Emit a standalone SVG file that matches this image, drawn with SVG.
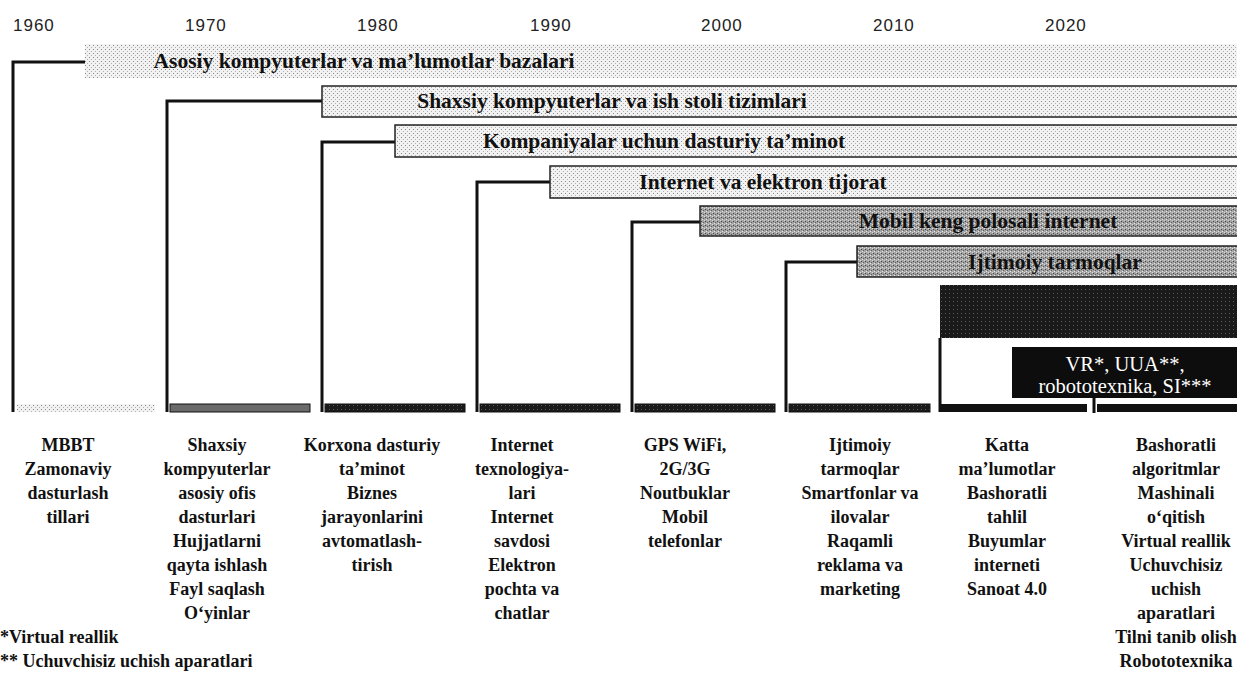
<svg xmlns="http://www.w3.org/2000/svg" width="1237" height="681" viewBox="0 0 1237 681">
<defs>
<pattern id="pLight" width="4" height="4" patternUnits="userSpaceOnUse">
<rect width="4" height="4" fill="#f2f2f2"/>
<rect x="1" y="1" width="1" height="1" fill="#8a8a8a"/>
<rect x="3" y="3" width="1" height="1" fill="#b0b0b0"/>
</pattern>
<pattern id="pMid" width="4" height="4" patternUnits="userSpaceOnUse">
<rect width="4" height="4" fill="#a3a3a3"/>
<rect x="1" y="1" width="1" height="1" fill="#444"/>
<rect x="3" y="2" width="1" height="1" fill="#606060"/>
<rect x="2" y="3" width="1" height="1" fill="#e8e8e8"/>
<rect x="0" y="0" width="1" height="1" fill="#dcdcdc"/>
</pattern>
<pattern id="pDark" width="4" height="4" patternUnits="userSpaceOnUse">
<rect width="4" height="4" fill="#1a1a1a"/>
<rect x="1" y="1" width="1" height="1" fill="#5a5a5a"/>
</pattern>
</defs>
<style>
.yr{font-family:"Liberation Sans",Arial,sans-serif;font-size:17px;fill:#222;letter-spacing:1px}
.bt{font-family:"Liberation Serif","Times New Roman",serif;font-size:21.5px;font-weight:bold;fill:#111;text-anchor:middle}
.lb{font-family:"Liberation Serif","Times New Roman",serif;font-size:18px;font-weight:bold;fill:#111;text-anchor:middle}
.fn{font-family:"Liberation Serif","Times New Roman",serif;font-size:18px;font-weight:bold;fill:#111}
.wt{font-family:"Liberation Serif","Times New Roman",serif;font-size:20.5px;fill:#fff;text-anchor:middle}
.conn{fill:none;stroke:#111;stroke-width:3}
.bar{stroke:#222;stroke-width:1.5}
.strip{stroke:#111;stroke-width:1}
</style>
<g id="years">
<text class="yr" x="13" y="31">1960</text>
<text class="yr" x="185" y="31">1970</text>
<text class="yr" x="357" y="31">1980</text>
<text class="yr" x="530" y="31">1990</text>
<text class="yr" x="701" y="31">2000</text>
<text class="yr" x="873" y="31">2010</text>
<text class="yr" x="1045" y="31">2020</text>
</g>
<g id="connectors">
<polyline class="conn" points="85,62 13,62 13,412"/>
<polyline class="conn" points="322,101 167,101 167,412"/>
<polyline class="conn" points="395,142 322,142 322,412"/>
<polyline class="conn" points="550,182 477,182 477,412"/>
<polyline class="conn" points="700,222 632,222 632,412"/>
<polyline class="conn" points="857,262 786,262 786,412"/>
<line class="conn" x1="940" y1="338" x2="940" y2="412"/>
<line class="conn" x1="1094" y1="398" x2="1094" y2="413"/>
</g>
<g id="bar1">
<rect x="85" y="44" width="1152" height="34" fill="url(#pLight)"/>
<text class="bt" x="364" y="68">Asosiy kompyuterlar va ma’lumotlar bazalari</text>
</g>
<g id="bar2">
<rect class="bar" x="322" y="86" width="920" height="31" fill="url(#pLight)"/>
<text class="bt" x="612" y="108">Shaxsiy kompyuterlar va ish stoli tizimlari</text>
</g>
<g id="bar3">
<rect class="bar" x="395" y="125" width="847" height="32" fill="url(#pLight)"/>
<text class="bt" x="664" y="148">Kompaniyalar uchun dasturiy ta’minot</text>
</g>
<g id="bar4">
<rect class="bar" x="550" y="166" width="692" height="32" fill="url(#pLight)"/>
<text class="bt" x="763" y="189">Internet va elektron tijorat</text>
</g>
<g id="bar5">
<rect class="bar" x="700" y="206" width="542" height="30" fill="url(#pMid)"/>
<text class="bt" x="988" y="228">Mobil keng polosali internet</text>
</g>
<g id="bar6">
<rect class="bar" x="857" y="246" width="385" height="31" fill="url(#pMid)"/>
<text class="bt" x="1055" y="269">Ijtimoiy tarmoqlar</text>
</g>
<g id="bar7">
<rect x="940" y="285" width="297" height="53" fill="url(#pDark)"/>
</g>
<g id="vrbox">
<rect x="1012" y="347" width="225" height="51" fill="#0d0d0d"/>
<text class="wt" x="1125" y="371">VR*, UUA**,</text>
<text class="wt" x="1125" y="393">robototexnika, SI***</text>
</g>
<g id="strips">
<rect x="17" y="404" width="138" height="8" fill="url(#pLight)"/>
<rect class="strip" x="170" y="404" width="140" height="8" fill="#6a6a6a"/>
<rect class="strip" x="325" y="404" width="140" height="8" fill="url(#pDark)"/>
<rect class="strip" x="480" y="404" width="140" height="8" fill="url(#pDark)"/>
<rect class="strip" x="635" y="404" width="140" height="8" fill="url(#pDark)"/>
<rect class="strip" x="789" y="404" width="141" height="8" fill="url(#pDark)"/>
<rect x="940" y="404" width="147" height="8" fill="#111"/>
<rect x="1097" y="404" width="140" height="8" fill="#111"/>
</g>
<g id="col1">
<text class="lb" x="68" y="451">MBBT</text>
<text class="lb" x="68" y="475">Zamonaviy</text>
<text class="lb" x="68" y="499">dasturlash</text>
<text class="lb" x="68" y="523">tillari</text>
</g>
<g id="col2">
<text class="lb" x="217" y="451">Shaxsiy</text>
<text class="lb" x="217" y="475">kompyuterlar</text>
<text class="lb" x="217" y="499">asosiy ofis</text>
<text class="lb" x="217" y="523">dasturlari</text>
<text class="lb" x="217" y="547">Hujjatlarni</text>
<text class="lb" x="217" y="571">qayta ishlash</text>
<text class="lb" x="217" y="595">Fayl saqlash</text>
<text class="lb" x="217" y="619">O‘yinlar</text>
</g>
<g id="col3">
<text class="lb" x="372" y="451">Korxona dasturiy</text>
<text class="lb" x="372" y="475">ta’minot</text>
<text class="lb" x="372" y="499">Biznes</text>
<text class="lb" x="372" y="523">jarayonlarini</text>
<text class="lb" x="372" y="547">avtomatlash-</text>
<text class="lb" x="372" y="571">tirish</text>
</g>
<g id="col4">
<text class="lb" x="522" y="451">Internet</text>
<text class="lb" x="522" y="475">texnologiya-</text>
<text class="lb" x="522" y="499">lari</text>
<text class="lb" x="522" y="523">Internet</text>
<text class="lb" x="522" y="547">savdosi</text>
<text class="lb" x="522" y="571">Elektron</text>
<text class="lb" x="522" y="595">pochta va</text>
<text class="lb" x="522" y="619">chatlar</text>
</g>
<g id="col5">
<text class="lb" x="685" y="451">GPS WiFi,</text>
<text class="lb" x="685" y="475">2G/3G</text>
<text class="lb" x="685" y="499">Noutbuklar</text>
<text class="lb" x="685" y="523">Mobil</text>
<text class="lb" x="685" y="547">telefonlar</text>
</g>
<g id="col6">
<text class="lb" x="860" y="451">Ijtimoiy</text>
<text class="lb" x="860" y="475">tarmoqlar</text>
<text class="lb" x="860" y="499">Smartfonlar va</text>
<text class="lb" x="860" y="523">ilovalar</text>
<text class="lb" x="860" y="547">Raqamli</text>
<text class="lb" x="860" y="571">reklama va</text>
<text class="lb" x="860" y="595">marketing</text>
</g>
<g id="col7">
<text class="lb" x="1007" y="451">Katta</text>
<text class="lb" x="1007" y="475">ma’lumotlar</text>
<text class="lb" x="1007" y="499">Bashoratli</text>
<text class="lb" x="1007" y="523">tahlil</text>
<text class="lb" x="1007" y="547">Buyumlar</text>
<text class="lb" x="1007" y="571">interneti</text>
<text class="lb" x="1007" y="595">Sanoat 4.0</text>
</g>
<g id="col8">
<text class="lb" x="1176" y="451">Bashoratli</text>
<text class="lb" x="1176" y="475">algoritmlar</text>
<text class="lb" x="1176" y="499">Mashinali</text>
<text class="lb" x="1176" y="523">o‘qitish</text>
<text class="lb" x="1176" y="547">Virtual reallik</text>
<text class="lb" x="1176" y="571">Uchuvchisiz</text>
<text class="lb" x="1176" y="595">uchish</text>
<text class="lb" x="1176" y="619">aparatlari</text>
<text class="lb" x="1176" y="643">Tilni tanib olish</text>
<text class="lb" x="1176" y="667">Robototexnika</text>
</g>
<g id="footnotes">
<text class="fn" x="0" y="643">*Virtual reallik</text>
<text class="fn" x="0" y="667">** Uchuvchisiz uchish aparatlari</text>
</g>
</svg>
